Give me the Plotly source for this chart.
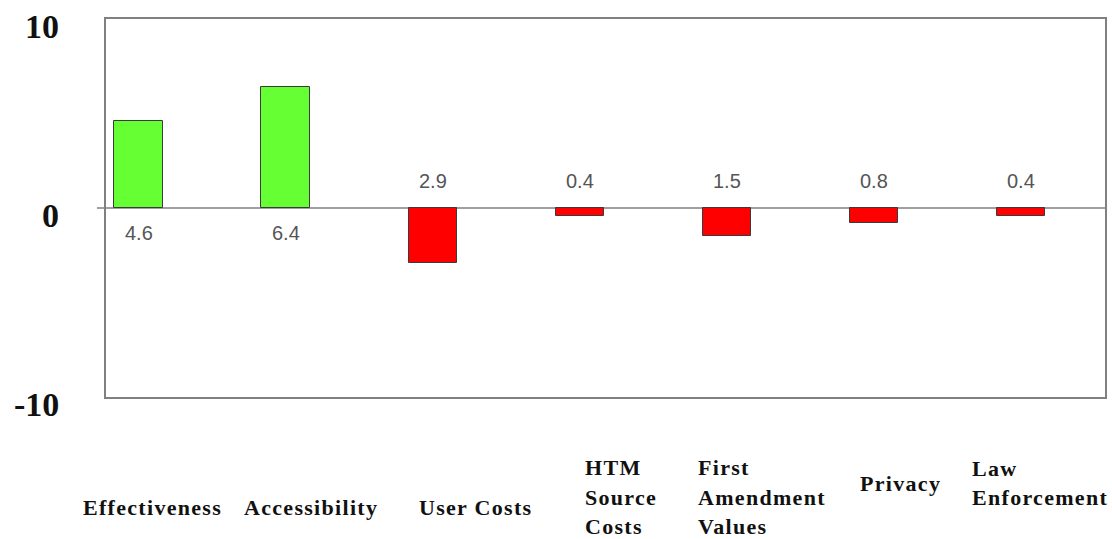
import plotly.graph_objects as go

# Scores per policy criterion
categories = ["Effectiveness", "Accessibility", "User Costs", "HTM Source Costs",
              "First Amendment Values", "Privacy", "Law Enforcement"]
values = [4.6, 6.4, -2.9, -0.4, -1.5, -0.8, -0.4]
category_lines = [["Effectiveness"], ["Accessibility"], ["User Costs"],
                  ["HTM", "Source", "Costs"], ["First", "Amendment", "Values"],
                  ["Privacy"], ["Law", "Enforcement"]]
y_ticks = [-10, 0, 10]

# Layout constants for the category captions below the plot (pixels)
caption_center_px = [507, 507, 507, 497, 497, 483, 483]
caption_anchor = ["center", "center", "center", "left", "left", "center", "left"]
caption_xshift = [14, 25, 43, 3, -31, 26, -51]
caption_line_px = 29.5

W, H = 1112, 539
M_L, M_R, M_T, M_B = 106, 5, 19, 142
plot_h = H - M_T - M_B

serif = "Liberation Serif, Times New Roman, serif"
colors = ["#66FF33" if v >= 0 else "#FF0000" for v in values]
xpos = list(range(len(categories)))

fig = go.Figure()
fig.add_trace(go.Bar(
    x=xpos, y=values, width=0.33,
    marker=dict(color=colors, line=dict(color="#3a3a3a", width=1)),
    hoverinfo="skip", showlegend=False,
))

annotations = []
# Value labels on the opposite side of the zero line
for i, v in enumerate(values):
    annotations.append(dict(
        x=i, y=0, xref="x", yref="y",
        text=f"{abs(v):.1f}", showarrow=False,
        yshift=-25 if v >= 0 else 27,
        font=dict(family="Liberation Sans, Arial", size=20, color="#555555"),
    ))

# Category captions, one annotation per text line
for i, lines in enumerate(category_lines):
    n = len(lines)
    for k, line in enumerate(lines):
        cy = caption_center_px[i] + (k - (n - 1) / 2) * caption_line_px
        annotations.append(dict(
            x=i, xref="x", yref="paper",
            y=1 - (cy - M_T) / plot_h,
            text=f'<span style="letter-spacing:1.3px">{line}</span>',
            showarrow=False, xanchor=caption_anchor[i], yanchor="middle",
            xshift=caption_xshift[i],
            font=dict(family=serif, size=22, color="#111111", weight="bold"),
        ))

# Y tick labels
for t in y_ticks:
    annotations.append(dict(
        x=0, xref="paper", y=t, yref="y", text=str(t), showarrow=False,
        xanchor="right", yanchor="middle", xshift=-45, yshift=-7,
        font=dict(family=serif, size=34, color="#111111", weight="bold"),
    ))

fig.update_layout(
    width=W, height=H,
    margin=dict(l=M_L, r=M_R, t=M_T, b=M_B),
    paper_bgcolor="white", plot_bgcolor="white",
    annotations=annotations,
    shapes=[
        dict(type="line", xref="paper", yref="y", x0=-0.009, x1=1, y0=0, y1=0,
             line=dict(color="#808080", width=1.5), layer="below"),
    ],
    bargap=0,
)
fig.update_xaxes(
    range=[-0.222, 6.57], showticklabels=False, showgrid=False,
    zeroline=False, showline=True, mirror=True,
    linecolor="#808080", linewidth=2, fixedrange=True,
)
fig.update_yaxes(
    range=[-10, 10], showticklabels=False,
    showgrid=False, zeroline=False, showline=True, mirror=True,
    linecolor="#808080", linewidth=2, fixedrange=True,
)

fig.write_html("out.html")
